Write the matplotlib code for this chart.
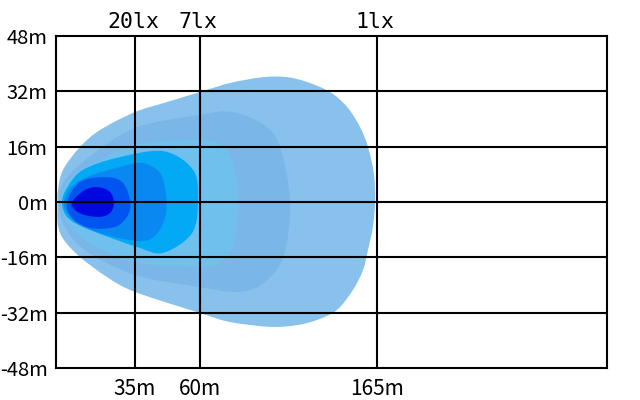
import numpy as np
import matplotlib
matplotlib.use("Agg")
import matplotlib.pyplot as plt
from matplotlib.path import Path
from matplotlib.patches import PathPatch
from matplotlib.transforms import blended_transform_factory

# 坐標: x 為圖上水平位置(與縱向同比例的單位), y 為米
x_ticks = [79, 144, 321]
x_labels = ["35m", "60m", "165m"]
lux_labels = ["20lx", "7lx", "1lx"]
y_ticks = [48, 32, 16, 0, -16, -32, -48]
y_labels = ["48m", "32m", "16m", "0m", "-16m", "-32m", "-48m"]

# 各照度等級的輪廓(由外到內)
level1_x = [1.5, 2, 7, 24, 44, 79, 111, 144, 174, 207, 231, 251, 274, 291, 304, 312, 318,
            319, 317, 312, 307, 297, 281, 261, 241, 214, 174, 144, 79, 51, 24, 8, 2]
level1_y = [0, 3.5, 9.3, 15.9, 20.8, 26.0, 28.9, 31.8, 34.4, 36.1, 36.1, 34.7, 31.8, 27.5, 21.7, 15.9, 8.0,
            0, -7.0, -13.9, -19.7, -25.4, -31.2, -34.1, -35.6, -36.1, -34.7, -32.1, -26.0, -21.7, -15.9, -11.0, -6.7]
level2_x = [3, 8, 29, 79, 144, 177, 211, 225, 234, 228, 209, 184, 144, 79, 29, 8]
level2_y = [0, 5.8, 12.1, 21.4, 25.2, 26.0, 21.7, 15.0, 0, -15.3, -23.1, -26.0, -24.6, -21.1, -13.9, -6.7]
level3_x = [5, 11, 34, 79, 144, 169, 180, 182, 179, 166, 144, 79, 34, 10]
level3_y = [0, 5.8, 10.7, 16.5, 17.9, 15.6, 7.8, -0.9, -11.0, -17.4, -18.8, -17.4, -11.9, -5.8]
level4_x = [6, 12, 27, 60, 107, 137, 142, 136, 107, 81, 34, 12]
level4_y = [0, 4.6, 9.3, 12.7, 14.7, 9.3, 0.6, -9.0, -14.7, -13.0, -8.1, -4.6]
level5_x = [8, 16, 36, 64, 86, 104, 110, 109, 99, 84, 54, 24, 12]
level5_y = [0, 4.6, 7.8, 10.1, 11.3, 8.4, 2.0, -4.6, -9.8, -11.3, -9.8, -6.7, -3.5]
level6_x = [11, 24, 49, 66, 74, 72, 59, 34, 16]
level6_y = [0, 5.8, 7.2, 5.8, 0.6, -3.8, -7.2, -7.5, -4.6]
level7_x = [16, 29, 42, 54, 58, 54, 44, 29, 19]
level7_y = [0, 3.5, 4.3, 2.9, -0.3, -3.2, -4.3, -3.8, -2.3]

levels = [
    (level1_x, level1_y, "#87c1ec"),
    (level2_x, level2_y, "#7ab6e8"),
    (level3_x, level3_y, "#70c0ee"),
    (level4_x, level4_y, "#03a9f5"),
    (level5_x, level5_y, "#0a88f2"),
    (level6_x, level6_y, "#0054f0"),
    (level7_x, level7_y, "#0008e0"),
]


def smooth_closed_path(xs, ys):
    """用 Catmull-Rom 控制點把輪廓點連成平滑的閉合曲線"""
    pts = np.column_stack([xs, ys]).astype(float)
    n = len(pts)
    verts = [pts[0]]
    codes = [Path.MOVETO]
    for i in range(n):
        p0, p1 = pts[i - 1], pts[i]
        p2, p3 = pts[(i + 1) % n], pts[(i + 2) % n]
        verts += [p1 + (p2 - p0) / 6, p2 - (p3 - p1) / 6, p2]
        codes += [Path.CURVE4] * 3
    return Path(verts, codes)


fig = plt.figure(figsize=(6.4, 4.0), dpi=100)
ax = fig.add_axes([56 / 640, 32 / 400, 551 / 640, 332 / 400])
ax.set_xlim(0, 551)
ax.set_ylim(-48, 48)

for xs, ys, color in levels:
    ax.add_patch(PathPatch(smooth_closed_path(xs, ys), facecolor=color,
                           edgecolor="none", zorder=1))

# 網格線
for x in x_ticks:
    ax.axvline(x, color="black", lw=1.5, zorder=3)
for y in y_ticks[1:-1]:
    ax.axhline(y, color="black", lw=1.5, zorder=3)
for side in ax.spines.values():
    side.set_linewidth(1.5)
    side.set_zorder(4)

label_font = ["Noto Sans CJK SC", "DejaVu Sans"]
ax.set_yticks(y_ticks)
ax.set_yticklabels(y_labels, fontsize=14.5, family=label_font)
ax.set_xticks(x_ticks)
ax.set_xticklabels(x_labels, fontsize=15, family=label_font)
ax.tick_params(axis="y", length=0, pad=6)
ax.tick_params(axis="x", length=0, pad=7)

top = blended_transform_factory(ax.transData, ax.transAxes)
for x, txt in zip(x_ticks, lux_labels):
    ax.text(x - 2, 1.013, txt, transform=top, ha="center", va="bottom",
            fontsize=15.5, family="DejaVu Sans Mono")

fig.savefig("out.png", dpi=100, facecolor="white")
